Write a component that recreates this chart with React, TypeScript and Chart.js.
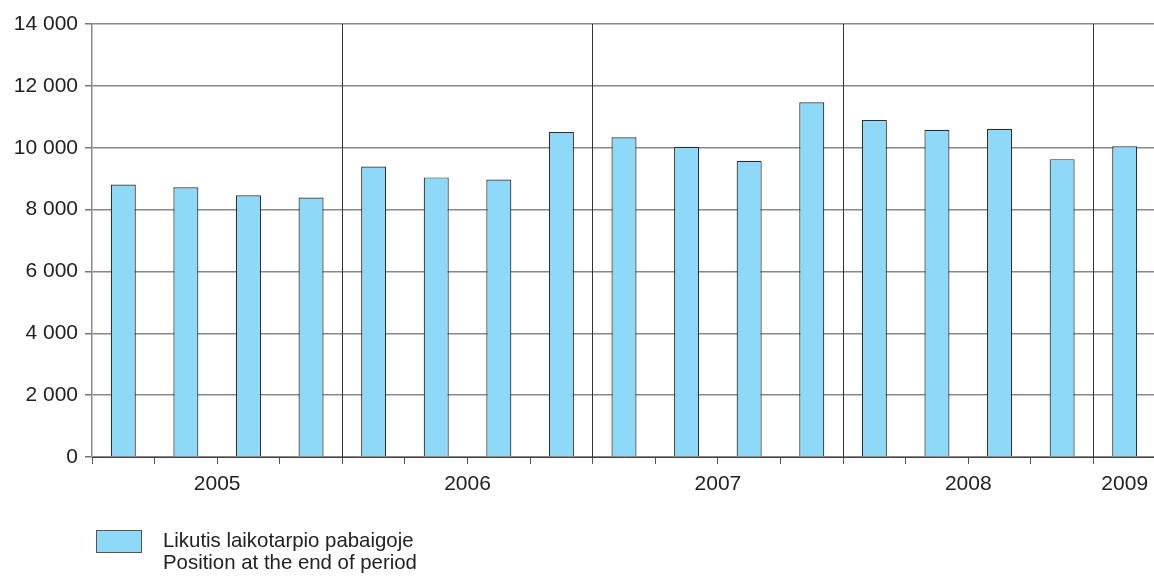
import React, { useEffect, useRef } from "react";
import { Chart, registerables } from "chart.js";

Chart.register(...registerables);

const years = ["2005", "2006", "2007", "2008", "2009"];
const quartersPerYear = [4, 4, 4, 4, 1];
const quarterNames = ["I", "II", "III", "IV"];
const positionValues = [
  8810, 8720, 8460, 8390,
  9390, 9040, 8970, 10510,
  10340, 10030, 9580, 11470,
  10900, 10580, 10610, 9630,
  10050,
];
const yTickValues = [0, 2000, 4000, 6000, 8000, 10000, 12000, 14000];
const legendLines = ["Likutis laikotarpio pabaigoje", "Position at the end of period"];

const FONT = '"Liberation Sans", Arial, sans-serif';
const BAR_FILL = "#8ED8F8";

const categoryLabels: string[] = [];
years.forEach((y, yi) => {
  for (let q = 0; q < quartersPerYear[yi]; q++) categoryLabels.push(`${quarterNames[q]} ${y}`);
});

// year label centres in category-index units, derived from quarter counts
const yearCenters: number[] = [];
{
  let start = 0;
  quartersPerYear.forEach((n) => {
    yearCenters.push(start - 0.5 + n / 2);
    start += n;
  });
}
const yearBoundaries = new Set<number>();
{
  let s = 0;
  quartersPerYear.forEach((n) => {
    s += n;
    yearBoundaries.add(s);
  });
}

const fmt = (v: number) => String(v).replace(/\B(?=(\d{3})+(?!\d))/g, " ");

export default function App() {
  const ref = useRef<HTMLCanvasElement | null>(null);

  useEffect(() => {
    if (!ref.current) return;
    const chart = new Chart(ref.current, {
      type: "bar",
      data: {
        labels: categoryLabels,
        datasets: [
          {
            label: legendLines.join(" / "),
            data: positionValues,
            backgroundColor: BAR_FILL,
            borderColor: "#2e2e2e",
            borderWidth: 1.2,
            barPercentage: 0.4,
            categoryPercentage: 1,
            xAxisID: "x",
            yAxisID: "y",
          },
        ],
      },
      options: {
        responsive: false,
        animation: false,
        devicePixelRatio: 1,
        layout: { padding: { left: 0, top: 24, right: 44, bottom: 79 } },
        plugins: {
          legend: { display: false },
          tooltip: { enabled: false },
        },
        scales: {
          y: {
            min: 0,
            max: 14000,
            afterFit: (s: any) => {
              s.width = 92;
            },
            afterBuildTicks: (s: any) => {
              s.ticks = yTickValues.map((v) => ({ value: v }));
            },
            ticks: {
              callback: (v: any) => fmt(Number(v)),
              font: { family: FONT, size: 21 },
              color: "#222",
              padding: 7,
            },
            grid: { color: "#888", lineWidth: 1.5, tickLength: 7, tickColor: "#777" },
            border: { color: "#888", width: 1.5 },
          },
          x: {
            type: "category",
            position: "bottom",
            offset: true,
            afterFit: (s: any) => {
              s.height = 8;
            },
            ticks: { display: false },
            grid: {
              offset: true,
              drawOnChartArea: true,
              tickLength: 7,
              lineWidth: 1,
              color: (ctx: any) =>
                ctx.index !== undefined && yearBoundaries.has(ctx.index) ? "#333" : "rgba(0,0,0,0)",
              tickColor: "#555",
            },
            border: { color: "#444", width: 1 },
          },
          yr: {
            type: "linear",
            position: "bottom",
            offset: false,
            min: -0.5,
            max: categoryLabels.length - 0.5,
            afterFit: (s: any) => {
              s.height = 40;
            },
            afterBuildTicks: (s: any) => {
              s.ticks = yearCenters.map((v) => ({ value: v }));
            },
            ticks: {
              autoSkip: false,
              maxRotation: 0,
              callback: (_v: any, i: number) => years[i],
              font: { family: FONT, size: 21 },
              color: "#222",
              padding: 7,
            },
            grid: { display: false, drawTicks: false, offset: false },
            border: { display: false },
          },
        },
      } as any,
    });
    return () => chart.destroy();
  }, []);

  return (
    <div
      style={{
        position: "fixed",
        left: 0,
        top: 0,
        width: 1154,
        height: 584,
        overflow: "hidden",
        background: "#fff",
      }}
    >
      <canvas ref={ref} width={1200} height={584} style={{ display: "block" }} />
      <div
        style={{
          position: "absolute",
          left: 96,
          top: 530,
          width: 46,
          height: 23,
          background: BAR_FILL,
          border: "1.5px solid #555",
          boxSizing: "border-box",
        }}
      />
      <div
        style={{
          position: "absolute",
          left: 163,
          top: 529,
          fontFamily: FONT,
          fontSize: 20.4,
          lineHeight: "22px",
          color: "#222",
          whiteSpace: "nowrap",
        }}
      >
        {legendLines.map((l) => (
          <div key={l}>{l}</div>
        ))}
      </div>
    </div>
  );
}
